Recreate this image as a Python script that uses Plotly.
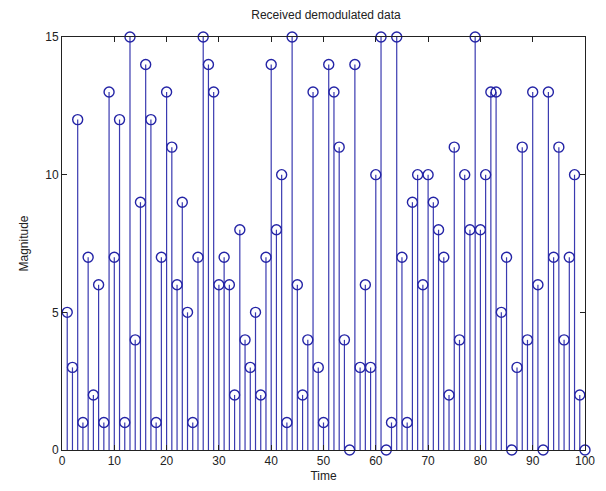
import plotly.graph_objects as go

time_index = list(range(1, 101))
magnitude = [
    5, 3, 12, 1, 7, 2, 6, 1, 13, 7,
    12, 1, 15, 4, 9, 14, 12, 1, 7, 13,
    11, 6, 9, 5, 1, 7, 15, 14, 13, 6,
    7, 6, 2, 8, 4, 3, 5, 2, 7, 14,
    8, 10, 1, 15, 6, 2, 4, 13, 3, 1,
    14, 13, 11, 4, 0, 14, 3, 6, 3, 10,
    15, 0, 1, 15, 7, 1, 9, 10, 6, 10,
    9, 8, 7, 2, 11, 4, 10, 8, 15, 8,
    10, 13, 13, 5, 7, 0, 3, 11, 4, 13,
    6, 0, 13, 7, 11, 4, 7, 10, 2, 0,
]
x_ticks = [0, 10, 20, 30, 40, 50, 60, 70, 80, 90, 100]
y_ticks = [0, 5, 10, 15]

stem_x, stem_y = [], []
for xi, yi in zip(time_index, magnitude):
    stem_x += [xi, xi, None]
    stem_y += [0, yi, None]

line_col = "#3a3ab0"
mark_col = "#2424a6"

fig = go.Figure()
fig.add_trace(go.Scatter(x=stem_x, y=stem_y, mode="lines",
                         line=dict(color=line_col, width=1.2),
                         hoverinfo="skip", showlegend=False))
fig.add_trace(go.Scatter(x=time_index, y=magnitude, mode="markers",
                         marker=dict(symbol="circle-open", size=10,
                                     color=mark_col, line=dict(width=1.4, color=mark_col)),
                         cliponaxis=False, showlegend=False))

font = dict(family="Liberation Sans, Arial, sans-serif", size=12, color="#222")
fig.update_layout(
    width=590, height=475,
    margin=dict(l=54, r=13, t=29, b=33, autoexpand=False),
    paper_bgcolor="white", plot_bgcolor="white",
    font=font,
    title=dict(text="Received demodulated data", x=0.539, xanchor="center",
               y=0.985, yanchor="middle", font=dict(size=12, color="#222")),
)
fig.update_xaxes(range=[0, 100], tickvals=x_ticks, ticks="inside", ticklen=5,
                 tickcolor="#222", showline=True, linecolor="#222", linewidth=1,
                 mirror="allticks", showgrid=False, zeroline=False, automargin=False,
                 title=dict(text="Time", standoff=6, font=dict(size=12)))
fig.update_yaxes(range=[0, 15], tickvals=y_ticks, ticks="inside", ticklen=5,
                 tickcolor="#222", showline=True, linecolor="#222", linewidth=1,
                 mirror="allticks", showgrid=False, zeroline=False, automargin=False,
                 title=dict(text="Magnitude", standoff=14, font=dict(size=12)))

fig.write_html("out.html")
